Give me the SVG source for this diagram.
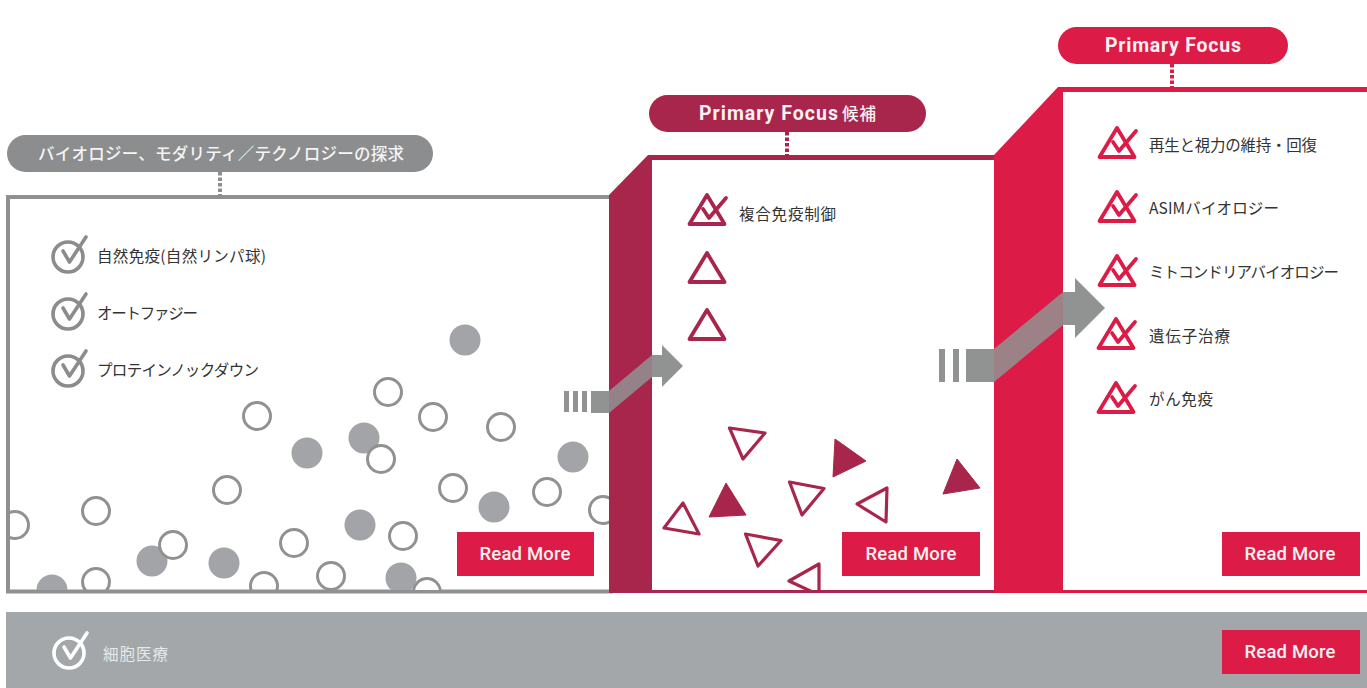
<svg xmlns="http://www.w3.org/2000/svg" width="1367" height="688" viewBox="0 0 1367 688">
<style>
.cjk{font-family:"Noto Sans CJK JP","Noto Sans",sans-serif;font-size:15.5px;fill:#333}
.pill{font-family:"Noto Sans CJK JP","Noto Sans",sans-serif;font-size:16.5px;fill:#f4f4f4;font-weight:500}
.pf{font-family:Roboto,"Noto Sans",sans-serif;font-size:19.500px;font-weight:700;fill:#f8f0f2}
.btn{fill:#dc1c47}
.rm{font-family:Roboto,"Noto Sans",sans-serif;font-size:18.500px;font-weight:500;fill:#f6f0f0;text-anchor:middle}
.h{fill:none;stroke:#8f9192;stroke-width:3}
.f{fill:#a3a4a7}
.th{fill:#fff;stroke:#a8264b;stroke-width:3.2;stroke-linejoin:round}
.tf{fill:#a8264b;stroke:#a8264b;stroke-width:1;stroke-linejoin:round}
.dots{fill:none;stroke-width:4;stroke-dasharray:3.5 2}
.ar{fill:#919393}
</style>
<defs>
<clipPath id="c1"><rect x="10" y="199" width="599" height="391"/></clipPath>
<clipPath id="c2"><rect x="652" y="160" width="343" height="430"/></clipPath>
<g id="chk" fill="none" stroke-linecap="round" stroke-linejoin="round">
<circle cx="0" cy="0" r="15" stroke-width="3.6"/>
<path d="M-5 -6L1.500 5L18 -20" stroke-width="3.600"/>
</g>
<g id="tri" fill="none" stroke-linejoin="round">
<path d="M0 -29L17.500 0L-17.500 0Z" stroke-width="3.800"/>
</g>
<g id="tc" fill="none" stroke-linejoin="round" stroke-linecap="round">
<path d="M0 -29L17.500 0L-17.500 0Z" stroke-width="3.800"/>
<path d="M-4 -15L2 -6L19 -26" stroke-width="3.800"/>
</g>
</defs>
<rect width="1367" height="688" fill="#fff"/>

<g id="bottom-band">
<rect x="6" y="612" width="1361" height="76" fill="#a3a7a9"/>
<use href="#chk" x="69" y="653" stroke="#fff"/>
<text class="cjk" x="103" y="660" textLength="65" style="fill:#e6e8e9">細胞医療</text>
<rect class="btn" x="1222" y="630" width="138" height="44"/>
<text class="rm" x="1290" y="658" textLength="91">Read More</text>
</g>

<g id="panel-explore">
<rect x="8" y="197" width="603" height="394.500" fill="#fff" stroke="#8e9091" stroke-width="4"/>
<g clip-path="url(#c1)">
<circle class="f" cx="465" cy="340" r="15.500"/><circle class="f" cx="307" cy="453" r="15.500"/><circle class="f" cx="364" cy="438" r="15.500"/><circle class="f" cx="573" cy="457" r="15.500"/><circle class="f" cx="494" cy="507" r="15.500"/><circle class="f" cx="360" cy="525" r="15.500"/><circle class="f" cx="152" cy="561" r="15.500"/><circle class="f" cx="224" cy="563" r="15.500"/><circle class="f" cx="52" cy="590" r="15.500"/><circle class="f" cx="401" cy="578" r="15.500"/>
<g class="h">
<circle cx="388" cy="392" r="13.500"/><circle cx="433" cy="417" r="13.500"/><circle cx="501" cy="427" r="13.500"/><circle cx="257" cy="416" r="13.500"/><circle cx="381" cy="459" r="13.500" fill="#fff"/><circle cx="227" cy="490" r="13.500"/><circle cx="453" cy="488" r="13.500"/><circle cx="547" cy="492" r="13.500"/><circle cx="96" cy="511" r="13.500"/><circle cx="603" cy="510" r="13.500"/><circle cx="15" cy="525" r="13.500"/><circle cx="173" cy="545" r="13.500" fill="#fff"/><circle cx="294" cy="543" r="13.500"/><circle cx="403" cy="536" r="13.500"/><circle cx="96" cy="582" r="13.500"/><circle cx="264" cy="586" r="13.500"/><circle cx="331" cy="576" r="13.500"/><circle cx="427" cy="592" r="13.500" fill="#fff"/>
</g>
</g>
<use href="#chk" x="68" y="257" stroke="#8a8c8d"/>
<use href="#chk" x="68" y="314" stroke="#8a8c8d"/>
<use href="#chk" x="68" y="371" stroke="#8a8c8d"/>
<text class="cjk" x="97" y="262" textLength="169">自然免疫(自然リンパ球)</text>
<text class="cjk" x="97" y="319" textLength="101">オートファジー</text>
<text class="cjk" x="97" y="376" textLength="162">プロテインノックダウン</text>
<rect class="btn" x="457" y="532" width="137" height="44"/>
<text class="rm" x="525" y="560" textLength="91">Read More</text>
</g>

<g id="panel-candidate">
<rect x="640" y="155" width="355" height="438" fill="#fff"/>
<path d="M609 593V195L648 155H995V160H652V590H995V593Z" fill="#a8264b"/>
<g clip-path="url(#c2)">
<path class="th" d="M729.500 428L765 433L743 459Z"/>
<path class="tf" d="M835 439L866 461L833 477Z"/>
<path class="tf" d="M726 483L746 515L709 517Z"/>
<path class="th" d="M683 503L699 534L664 528Z"/>
<path class="th" d="M789.500 482L824 488.500L802 515Z"/>
<path class="th" d="M887 488L886 522L857 504Z"/>
<path class="tf" d="M957 459L980 488L943 494Z"/>
<path class="th" d="M745.500 534L781 540.500L758 566Z"/>
<path class="th" d="M819 564L819 595L789 581Z"/>
</g>
<use href="#tc" x="707" y="224" stroke="#a8264b"/>
<use href="#tri" x="707" y="282" stroke="#a8264b"/>
<use href="#tri" x="707" y="339" stroke="#a8264b"/>
<text class="cjk" x="739" y="220" textLength="97">複合免疫制御</text>
<rect class="btn" x="842" y="532" width="138" height="44"/>
<text class="rm" x="911" y="560" textLength="91">Read More</text>
</g>

<g id="panel-focus">
<rect x="1060" y="87" width="307" height="506" fill="#fff"/>
<path d="M994 593V155L1058 87H1367V92H1063V590H1367V593Z" fill="#dc1c47"/>
<use href="#tc" x="1117" y="157" stroke="#dc1c47"/>
<use href="#tc" x="1117" y="221" stroke="#dc1c47"/>
<use href="#tc" x="1117" y="285" stroke="#dc1c47"/>
<use href="#tc" x="1116" y="348" stroke="#dc1c47"/>
<use href="#tc" x="1116" y="412" stroke="#dc1c47"/>
<text class="cjk" x="1149" y="151" textLength="168">再生と視力の維持・回復</text>
<text class="cjk" x="1149" y="214" textLength="130">ASIMバイオロジー</text>
<text class="cjk" x="1149" y="278" textLength="190">ミトコンドリアバイオロジー</text>
<text class="cjk" x="1149" y="342" textLength="81">遺伝子治療</text>
<text class="cjk" x="1149" y="405" textLength="64">がん免疫</text>
<rect class="btn" x="1222" y="532" width="138" height="44"/>
<text class="rm" x="1290" y="560" textLength="91">Read More</text>
</g>

<g id="label-explore">
<rect x="7" y="135" width="426" height="37" rx="18.500" fill="#8b8d8e"/>
<text class="pill" x="38" y="160" textLength="366">バイオロジー、モダリティ／テクノロジーの探求</text>
</g>
<g id="label-candidate">
<rect x="649" y="95" width="277" height="37" rx="18.500" fill="#a8264b"/>
<text class="pf" x="699" y="120" textLength="139">Primary Focus</text>
<text class="pill" x="842" y="120" textLength="34">候補</text>
</g>
<g id="label-focus">
<rect x="1058" y="27" width="230" height="37" rx="18.500" fill="#dc1c47"/>
<text class="pf" x="1105" y="52" textLength="136">Primary Focus</text>
</g>

<g id="connectors">
<path class="dots" d="M220 172V195" stroke="#8b8d8e"/>
<path class="dots" d="M787 132V155" stroke="#a8264b"/>
<path class="dots" d="M1172 64V87" stroke="#dc1c47"/>
<path class="ar" d="M564 391h5v21h-5zM573 391h5v21h-5zM582 391h5v21h-5zM591 391h18v22h-18z"/>
<path class="ar" opacity=".85" d="M609 391L652 355V377L609 413Z"/>
<path class="ar" d="M652 355H662V345L683 366L662 387V377H652Z"/>
<path class="ar" d="M939 349h6v33h-6zM953 349h6v33h-6zM966 349h28v33h-28z"/>
<path class="ar" opacity=".85" d="M994 349L1063 292V325L994 382Z"/>
<path class="ar" d="M1063 292H1075V278L1105 308L1075 338V325H1063Z"/>
</g>
</svg>
